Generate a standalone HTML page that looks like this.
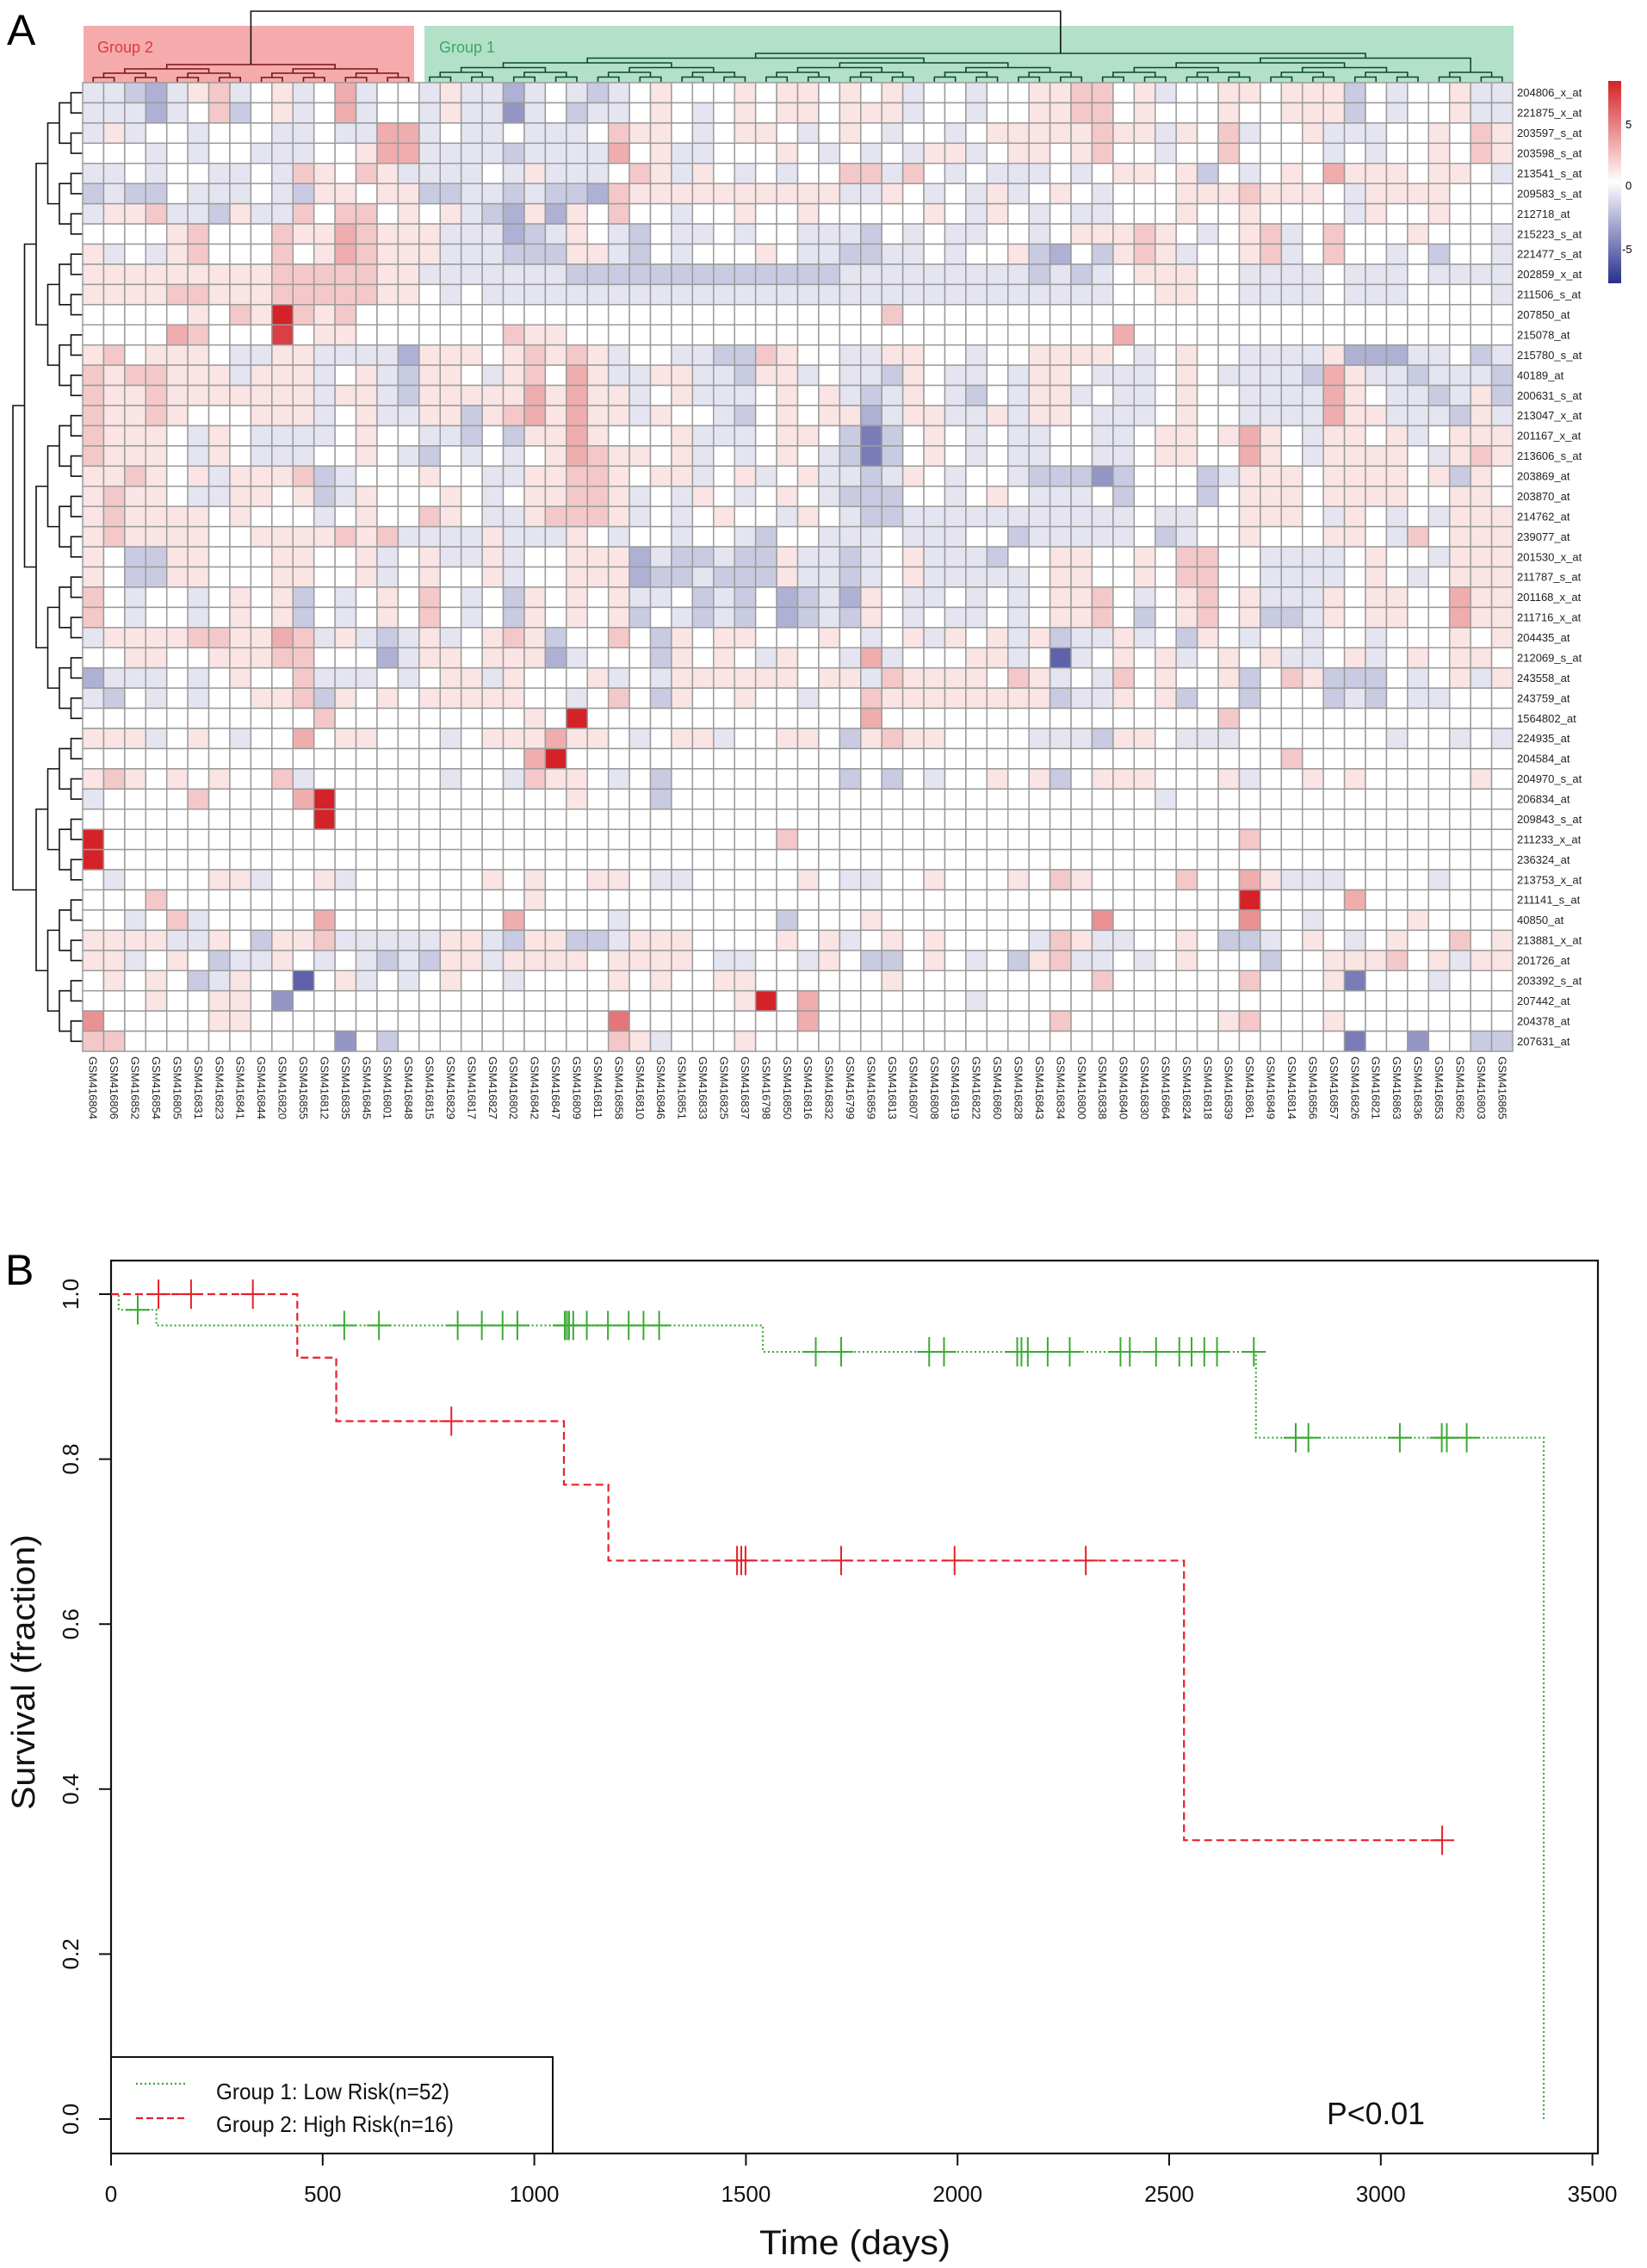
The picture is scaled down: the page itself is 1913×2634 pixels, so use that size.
<!DOCTYPE html>
<html><head><meta charset="utf-8"><title>Heatmap and survival</title>
<style>
html,body{margin:0;padding:0;background:#fff;}
svg{display:block;font-family:"Liberation Sans",Arial,sans-serif;}
</style></head>
<body>
<svg id="fig" width="1913" height="2634" viewBox="0 0 1913 2634" xmlns="http://www.w3.org/2000/svg">
<rect x="0" y="0" width="1913" height="2634" fill="#fff"/>
<text x="8" y="52" font-size="50">A</text>
<text x="6" y="1492" font-size="50">B</text>
<rect x="97" y="30" width="384" height="66" fill="#f5abab"/>
<rect x="493" y="30" width="1265" height="66" fill="#b3e0c8"/>
<text x="113" y="61" font-size="18" fill="#e0393b">Group 2</text>
<text x="510" y="61" font-size="18" fill="#3aa865">Group 1</text>
<g id="topDendro"></g>
<g id="leftDendro"></g>
<g id="heat"></g>
<g id="rowLabels"></g>
<g id="colLabels"></g>
<defs><linearGradient id="cbar" x1="0" y1="0" x2="0" y2="1">
<stop offset="0" stop-color="#d42328"/><stop offset="0.5" stop-color="#ffffff"/><stop offset="1" stop-color="#28308c"/></linearGradient></defs>
<rect x="1868" y="94" width="15" height="235" fill="url(#cbar)"/>
<text x="1888" y="149" font-size="13">5</text>
<text x="1888" y="220" font-size="13">0</text>
<text x="1884" y="294" font-size="13">-5</text>
<g id="km"></g>
</svg>
<script>
// ---------- Heatmap data ----------
const rowNames = ["204806_x_at","221875_x_at","203597_s_at","203598_s_at","213541_s_at","209583_s_at","212718_at","215223_s_at","221477_s_at","202859_x_at","211506_s_at","207850_at","215078_at","215780_s_at","40189_at","200631_s_at","213047_x_at","201167_x_at","213606_s_at","203869_at","203870_at","214762_at","239077_at","201530_x_at","211787_s_at","201168_x_at","211716_x_at","204435_at","212069_s_at","243558_at","243759_at","1564802_at","224935_at","204584_at","204970_s_at","206834_at","209843_s_at","211233_x_at","236324_at","213753_x_at","211141_s_at","40850_at","213881_x_at","201726_at","203392_s_at","207442_at","204378_at","207631_at"];
const colNames = ["GSM416804","GSM416806","GSM416852","GSM416854","GSM416805","GSM416831","GSM416823","GSM416841","GSM416844","GSM416820","GSM416855","GSM416812","GSM416835","GSM416845","GSM416801","GSM416848","GSM416815","GSM416829","GSM416817","GSM416827","GSM416802","GSM416842","GSM416847","GSM416809","GSM416811","GSM416858","GSM416810","GSM416846","GSM416851","GSM416833","GSM416825","GSM416837","GSM416798","GSM416850","GSM416816","GSM416832","GSM416799","GSM416859","GSM416813","GSM416807","GSM416808","GSM416819","GSM416822","GSM416860","GSM416828","GSM416843","GSM416834","GSM416800","GSM416838","GSM416840","GSM416830","GSM416864","GSM416824","GSM416818","GSM416839","GSM416861","GSM416849","GSM416814","GSM416856","GSM416857","GSM416826","GSM416821","GSM416863","GSM416836","GSM416853","GSM416862","GSM416803","GSM416865"];
const values = [
[-1,-1,-2,-3,-1,1,2,-1,0,1,-1,0,3,-1,0,0,-1,1,-1,-1,-3,-1, 0,-1,-2,-1,0,1,0,0,0,1,0,1,1,0,1,0,1,-1,0,0,-1,0,0, 1,1,2,2,0,1,-1,0,0,1,1,0,1,1,1,-2,0,-1,0,0,1,-1,-1],
[-1,-1,-1,-3,-1,0,2,-2,0,1,-1,0,3,-1,0,0,-1,1,-1,-1,-4,-1, 0,-2,-1,-1,0,1,0,-1,0,1,0,1,1,0,1,1,1,-1,0,0,-1,0,0, 1,1,2,2,0,1,0,0,0,1,0,0,1,1,1,-2,0,-1,0,0,1,-1,-1],
[-1,1,-1,0,0,-1,0,0,0,-1,-1,0,-1,-1,3,3,-1,0,-1,-1,0,-1, -1,-1,0,2,1,1,0,-1,0,1,1,0,-1,0,1,0,-1,0,0,-1,0,1,1, 1,1,1,2,1,1,-1,1,0,2,-1,0,0,1,-1,-1,-1,0,0,1,0,2,1],
[0,0,0,-1,0,-1,0,0,-1,-1,-1,0,0,1,3,3,-1,-1,-1,-1,-2,-1, -1,-1,-1,3,0,1,-1,-1,0,0,0,1,0,-1,0,-1,0,-1,1,1,-1,0,1, 1,0,1,2,0,0,-1,0,0,2,0,0,0,0,-1,0,-1,0,0,1,0,2,1],
[-1,-1,0,-1,0,0,-1,-1,0,-1,2,1,0,2,1,-1,-1,-1,-1,0,-1,1, -1,-1,-1,0,2,1,-1,1,0,-1,0,-1,0,0,2,2,-1,2,0,-1,0,-1,-1, -1,0,-1,0,1,1,0,1,-2,0,-1,0,1,0,3,1,1,1,0,1,1,0,-1],
[-2,-1,-2,-2,0,-1,-1,-1,0,-1,-2,1,1,0,1,1,-2,-2,-1,-1,-2,-1, -2,-2,-3,2,1,1,1,1,1,1,1,1,1,1,-1,-1,1,0,-1,0,-1,1,-1, 0,1,0,-1,0,0,0,1,1,1,2,1,1,1,0,-1,1,1,1,1,0,0,0],
[-1,1,1,2,-1,-1,-2,1,-1,-1,2,0,2,2,0,1,0,1,-1,-2,-3,1, -3,1,0,2,0,0,-1,0,0,1,0,0,1,0,0,0,0,0,1,0,-1,1,0, -1,0,-1,-1,0,0,0,1,0,0,1,0,0,0,0,-1,1,0,0,1,0,0,0],
[0,0,0,0,1,2,0,0,0,2,1,1,3,2,1,1,1,-1,-1,-1,-3,-2, -1,1,0,-1,-2,0,-1,-1,0,-1,0,0,-1,-1,-1,-2,0,-1,0,-1,-1,0,0, -1,0,1,1,1,2,1,0,-1,0,1,2,-1,0,2,0,0,0,1,0,0,0,-1],
[1,-1,0,-1,1,2,0,0,0,2,0,1,3,2,1,1,1,-1,-1,-1,-2,-2, -2,1,1,-1,-2,0,-1,0,0,0,1,0,-1,-1,-2,-2,-1,-1,0,-1,0,0,1, -2,-3,0,-2,1,2,1,-1,0,0,1,2,-1,0,2,0,0,-1,0,-2,0,0,-1],
[1,1,1,1,1,1,1,1,1,2,2,2,2,2,1,1,-1,-1,-1,-1,-1,-1, -1,-2,-2,-2,-2,-2,-2,-2,-2,-2,-2,-2,-2,-2,-1,-1,-1,-1,-1,-1,-1,-1,-1, -2,-1,-2,-1,0,1,1,1,0,0,-1,-1,-1,-1,0,-1,-1,-1,0,-1,-1,-1,-1],
[1,1,1,1,2,2,1,1,1,2,2,2,2,2,1,1,0,-1,0,-1,-1,-1, -1,-1,-1,-1,-1,-1,-1,-1,-1,-1,-1,-1,-1,-1,-1,-1,-1,-1,-1,-1,-1,-1,-1, -1,-1,-1,-1,0,0,1,1,0,0,-1,-1,-1,-1,0,-1,-1,-1,0,0,0,0,-1],
[0,0,0,0,0,1,0,2,1,8,2,1,2,0,0,0,0,0,0,0,0,0, 0,0,0,0,0,0,0,0,0,0,0,0,0,0,0,0,2,0,0,0,0,0,0, 0,0,0,0,0,0,0,0,0,0,0,0,0,0,0,0,0,0,0,0,0,0,0],
[0,0,0,0,3,2,0,0,0,7,0,1,1,0,0,0,0,0,0,0,2,1, 1,0,0,0,0,0,0,0,0,0,0,0,0,0,0,0,0,0,0,0,0,0,0, 0,0,0,0,3,0,0,0,0,0,0,0,0,0,0,0,0,0,0,0,0,0,0],
[1,2,0,1,1,1,0,-1,-1,1,1,-1,-1,-1,-1,-3,1,1,1,0,1,2, 1,2,1,-1,0,0,-1,-1,-2,-2,2,1,0,0,-1,-1,1,1,0,0,-1,0,0, 1,1,1,1,0,-1,0,1,0,0,-1,-1,-1,-1,1,-3,-3,-3,-1,-1,0,-2,-1],
[2,1,2,2,1,1,1,-1,1,1,1,-1,0,1,-1,-2,1,1,0,-1,1,2, 0,3,1,-1,-1,1,1,-1,-1,-2,1,1,-1,0,-1,-1,-2,1,0,-1,-1,0,-1, 1,1,0,-1,-1,-1,0,1,0,-1,-1,-1,-1,-2,3,1,-1,-1,-2,-1,-1,-1,-2],
[2,1,1,2,1,1,1,1,1,1,1,-1,1,1,-1,-2,1,1,1,1,1,3, 1,3,1,1,-1,0,1,-1,-1,-1,0,1,0,1,-1,-2,-1,1,0,-1,-2,0,-1, 1,1,-1,0,-1,-1,0,1,0,0,-1,-1,-1,-1,3,1,0,-1,-1,-2,-1,1,-2],
[2,1,1,2,1,0,0,0,1,1,1,-1,0,1,-1,-1,1,1,-2,1,2,3, 1,3,1,1,-1,1,0,0,-1,-2,0,1,0,1,1,-3,-1,1,1,-1,-1,1,-1, 1,1,0,-1,-1,-1,0,1,0,0,-1,-1,-1,-1,3,1,1,-1,-1,-1,-2,1,-1],
[2,1,1,1,0,-1,1,0,-1,-1,-1,-1,0,1,0,0,-1,-1,-2,0,-2,1, 1,3,1,0,0,0,1,-1,-1,-1,0,1,1,0,-2,-5,-2,0,1,0,-1,0,-1, -1,0,0,-1,-1,0,1,1,0,1,3,1,0,-1,1,1,0,1,-1,0,1,1,1],
[2,1,1,1,0,-1,1,0,-1,-1,-1,0,0,1,0,-1,-2,0,-1,0,-1,0, 1,3,2,1,1,0,1,-1,0,-1,0,1,0,-1,-2,-5,-2,0,1,0,-1,0,-1, -1,0,0,-1,-1,0,1,1,0,0,3,1,0,-1,1,1,1,1,0,-1,1,2,1],
[1,1,2,1,0,1,-1,1,1,1,2,-2,-1,0,0,0,1,0,0,-1,-1,1, 1,2,2,1,0,1,1,-1,0,1,-1,0,1,-1,-1,-2,-1,1,0,-1,0,0,-1, -2,-2,-2,-4,-2,0,0,0,-2,-1,1,1,1,0,1,1,1,1,0,1,-2,1,0],
[1,2,1,1,0,-1,-1,1,1,0,1,-2,-1,1,0,0,0,1,0,-1,0,1, 1,2,2,1,-1,0,-1,1,0,-1,0,1,0,-1,-2,-2,-2,0,0,-1,0,1,0, -1,-1,-1,0,-2,0,0,0,-2,0,1,1,1,0,1,1,1,1,0,0,1,1,0],
[1,2,1,1,1,1,0,1,0,0,0,-1,0,1,0,0,2,1,0,-1,-1,1, 2,2,2,1,-1,0,-1,0,1,0,0,-1,1,0,-1,-2,-2,-1,-1,-1,-1,-1,-1, -1,-1,-1,-1,-1,0,-1,-1,0,0,1,1,1,0,-1,1,0,-1,0,-1,1,1,1],
[1,2,1,1,1,1,0,0,1,1,1,1,2,1,2,-1,-1,-1,-1,1,-1,-1, -1,1,0,-1,0,0,-1,0,0,-1,-2,0,0,-1,-1,-1,0,-1,-1,-1,0,0,-2, -1,-1,-1,-1,-1,0,-2,-1,0,0,1,0,0,0,1,1,0,-1,2,0,1,1,1],
[1,0,-2,-2,1,1,0,0,0,1,1,0,0,1,-1,0,1,-1,-1,1,-1,0, 0,1,1,1,-3,-1,-2,-2,-1,-2,-2,1,-1,-1,-2,-1,0,1,-1,-1,-1,-2,0, 0,1,1,0,0,1,0,2,2,0,0,-1,-1,-1,-1,0,1,0,0,-1,1,1,1],
[1,0,-2,-2,1,1,0,0,0,1,1,0,0,1,-1,0,1,0,0,1,-1,0, 0,1,1,1,-3,-2,-2,-1,-2,-2,-2,1,-1,-1,-2,-1,0,1,-1,-1,-1,-1,-1, 0,1,1,0,0,1,0,2,2,0,0,-1,-1,-1,-1,0,1,0,-1,0,1,1,1],
[2,0,-1,0,0,-1,0,1,0,1,-2,0,-1,0,1,0,2,0,-1,0,-2,1, 0,1,0,1,-1,-1,0,-2,-1,-2,0,-3,-2,-1,-3,1,0,-1,-1,0,-1,0,-1, 0,1,1,2,0,-1,0,1,2,0,1,-1,-1,-1,1,0,1,1,0,0,3,1,1],
[2,0,-1,0,0,-1,0,1,0,1,-2,0,-1,0,1,0,2,0,-1,0,-2,1, 0,1,0,1,-2,0,-1,-2,-1,-2,0,-3,-2,-1,-2,1,0,-1,0,-1,-1,0,-1, 0,1,1,2,0,-2,0,1,2,0,1,-2,-2,-1,1,0,1,1,0,0,3,1,1],
[-1,1,1,1,1,2,2,1,1,3,2,-1,1,-1,-2,-1,1,-1,0,1,2,1, -2,0,0,2,0,-2,1,0,1,1,0,0,0,1,0,-1,0,1,-1,1,0,1,-1, 1,-2,-1,-1,1,-1,0,-2,1,0,-1,0,0,-1,0,0,-1,0,0,0,1,0,1],
[0,0,1,1,0,0,1,1,1,2,2,0,0,0,-3,-1,1,1,0,1,1,1, -3,-1,0,0,0,-2,1,0,1,0,-1,1,0,0,-1,3,-1,0,0,0,1,1,-1, 0,-6,-1,0,1,0,1,-1,0,1,0,1,-1,-1,0,1,-1,0,1,0,1,1,0],
[-3,-1,-1,-1,0,-1,0,1,0,0,2,-1,-1,-1,0,-1,0,1,1,-1,1,0, 0,0,1,-1,0,-1,1,1,1,1,1,1,0,1,1,-1,2,1,1,1,1,0,2, 1,-1,0,-1,2,0,1,0,0,1,-2,0,2,1,-2,-2,-2,0,-1,0,1,-1,1],
[-1,-2,0,-1,0,-1,0,0,1,1,2,-2,1,0,1,0,1,1,1,1,1,0, 0,-1,0,2,0,-2,1,0,0,1,0,0,-1,0,0,2,1,1,1,1,1,1,1, 1,-2,-1,-1,1,0,1,-2,0,0,-2,0,0,0,-2,-1,-2,0,-1,-1,0,0,0],
[0,0,0,0,0,0,0,0,0,0,0,2,0,0,0,0,0,0,0,0,0,1, 0,8,0,0,0,0,0,0,0,0,0,0,0,0,0,3,0,0,0,0,0,0,0, 0,0,0,0,0,0,0,0,0,2,0,0,0,0,0,0,0,0,0,0,0,0,0],
[1,1,1,-1,0,1,0,-1,0,0,3,0,1,1,0,0,0,-1,0,1,1,1, 3,1,1,0,-1,0,1,1,-1,0,0,1,1,0,-2,1,2,1,1,0,0,0,0, -1,-1,-1,-2,1,1,0,-1,-1,-1,0,0,0,0,0,0,0,-1,0,0,-1,0,-1],
[0,0,0,0,0,0,0,0,0,0,0,0,0,0,0,0,0,0,0,0,0,3, 8,0,0,0,0,0,0,0,0,0,0,0,0,0,0,0,0,0,0,0,0,0,0, 0,0,0,0,0,0,0,0,0,0,0,0,2,0,0,0,0,0,0,0,0,0,0],
[1,2,1,0,1,0,1,0,0,2,-1,0,0,0,0,0,0,-1,0,0,-1,2, 1,1,0,-1,0,-2,0,0,0,0,0,0,0,0,-2,0,-2,0,-1,0,0,1,0, 1,-2,0,1,1,1,0,0,0,1,-1,0,0,1,0,1,0,0,0,0,0,1,0],
[-1,0,0,0,0,2,0,0,0,0,3,8,0,0,0,0,0,0,0,0,0,0, 0,1,0,0,0,-2,0,0,0,0,0,0,0,0,0,0,0,0,0,0,0,0,0, 0,0,0,0,0,0,-1,0,0,0,0,0,0,0,0,0,0,0,0,0,0,0,0],
[0,0,0,0,0,0,0,0,0,0,0,8,0,0,0,0,0,0,0,0,0,0, 0,0,0,0,0,0,0,0,0,0,0,0,0,0,0,0,0,0,0,0,0,0,0, 0,0,0,0,0,0,0,0,0,0,0,0,0,0,0,0,0,0,0,0,0,0,0],
[8,0,0,0,0,0,0,0,0,0,0,0,0,0,0,0,0,0,0,0,0,0, 0,0,0,0,0,0,0,0,0,0,0,2,0,0,0,0,0,0,0,0,0,0,0, 0,0,0,0,0,0,0,0,0,0,2,0,0,0,0,0,0,0,0,0,0,0,0],
[8,0,0,0,0,0,0,0,0,0,0,0,0,0,0,0,0,0,0,0,0,0, 0,0,0,0,0,0,0,0,0,0,0,0,0,0,0,0,0,0,0,0,0,0,0, 0,0,0,0,0,0,0,0,0,0,0,0,0,0,0,0,0,0,0,0,0,0,0],
[0,-1,0,0,0,0,1,1,-1,0,0,1,-1,0,0,0,0,0,0,1,0,1, 0,0,1,1,0,-1,-1,0,0,0,0,0,1,0,-1,-1,0,0,1,0,0,0,1, 0,2,1,0,0,0,0,2,0,0,3,1,-1,-1,-1,0,0,0,0,-1,0,0,0],
[0,0,0,2,0,0,0,0,0,0,0,0,0,0,0,0,0,0,0,0,0,1, 0,0,0,0,0,0,0,0,0,0,0,0,0,0,0,0,0,0,0,0,0,0,0, 0,0,0,0,0,0,0,0,0,0,8,0,0,0,0,3,0,0,0,0,0,0,0],
[0,0,-1,0,2,-1,0,0,0,0,0,3,0,0,0,0,0,0,0,0,3,0, 0,0,0,-1,0,0,0,0,0,0,0,-2,0,0,0,1,0,0,0,0,0,0,0, 0,0,0,4,0,0,0,0,0,0,4,0,0,-1,0,0,0,0,1,0,0,0,0],
[1,1,1,1,-1,-1,1,0,-2,1,1,2,-1,-1,-1,-1,-1,1,1,-1,-2,1, 1,-2,-2,-1,1,1,1,0,0,0,0,1,0,1,-1,0,1,0,1,0,0,0,0, -1,2,1,-1,-1,0,0,1,0,-2,-2,-1,0,1,0,-1,0,1,0,0,2,0,1],
[1,1,-1,0,1,0,-2,-1,-1,1,0,-1,0,-1,-2,-1,-2,1,1,-1,1,1, 1,1,0,1,1,1,1,0,-1,-1,0,0,-1,1,0,-2,-2,0,1,0,-1,0,-2, 1,2,-1,-1,0,-1,0,1,0,0,0,-2,0,0,1,1,1,2,0,1,-1,1,1],
[0,1,0,1,0,-2,-1,1,0,0,-6,0,1,-1,0,-1,0,1,0,0,-1,0, 0,0,0,1,0,1,0,0,1,1,0,0,0,0,0,0,1,0,0,0,0,0,0, 0,0,0,2,0,0,0,0,0,0,2,0,0,0,1,-5,0,0,0,-1,0,0,0],
[0,0,0,1,0,0,1,1,0,-4,0,0,0,0,0,0,0,0,0,0,0,0, 0,0,0,0,0,0,0,0,0,1,8,0,3,0,0,0,0,0,0,0,-1,0,0, 0,0,0,0,0,0,0,0,0,0,0,0,0,0,0,0,0,0,0,0,0,0,0],
[4,0,0,0,0,0,1,1,0,0,0,0,0,0,0,0,0,0,0,0,0,0, 0,0,0,5,0,0,0,0,0,0,0,0,3,0,0,0,0,0,0,0,0,0,0, 0,2,0,0,0,0,0,0,0,1,2,0,0,0,1,0,0,0,0,0,0,0,0],
[2,2,0,0,0,0,0,0,0,0,0,0,-4,0,-2,0,0,0,0,0,0,0, 0,0,0,2,1,-1,0,0,0,1,0,0,0,0,0,0,0,0,0,0,0,0,0, 0,0,0,0,0,0,0,0,0,0,0,0,0,0,0,-5,0,0,-4,0,0,-2,-2]
];

// ---------- Survival data ----------
const greenTimes = [0, 18, 107, 1540, 2705, 3385];
const greenSurv  = [1, 0.981, 0.962, 0.93, 0.826, 0];
const greenEnd   = [3385];
const redTimes   = [0, 440, 532, 1070, 1175, 2535];
const redSurv    = [1, 0.923, 0.846, 0.769, 0.677, 0.338];
const redEnd     = [3145];
const greenCensor = [63,551,633,819,876,925,960,1072,1077,1082,1092,1124,1174,1223,1258,1295,1665,1725,1933,1968,2141,2151,2166,2213,2265,2385,2407,2469,2524,2553,2583,2613,2700,2799,2829,3045,3144,3156,3203];
const redCensor   = [112,189,335,804,1479,1489,1499,1725,1993,2303,3145];
const xTicks = [0,500,1000,1500,2000,2500,3000,3500];
const yTicks = [0,0.2,0.4,0.6,0.8,1.0];
const yTickLabels = ["0.0","0.2","0.4","0.6","0.8","1.0"];

const NS = "http://www.w3.org/2000/svg";
function mk(tag, attrs, parent){
  const e = document.createElementNS(NS, tag);
  for (const k in attrs) e.setAttribute(k, attrs[k]);
  parent.appendChild(e); return e;
}

// ---------- Heatmap ----------
const HX0 = 96, HY0 = 96, HX1 = 1757, HY1 = 1221;
const nR = rowNames.length, nC = colNames.length;
const cw = (HX1 - HX0) / nC, rh = (HY1 - HY0) / nR;
function colX(c){ return HX0 + c * cw; }
function rowY(r){ return HY0 + r * rh; }
function cellColor(v){
  const t = Math.min(Math.abs(v) / 8, 1);
  let e = v >= 0 ? [212,35,40] : [40,45,140];
  const r = Math.round(255 + (e[0]-255)*t), g = Math.round(255 + (e[1]-255)*t), b = Math.round(255 + (e[2]-255)*t);
  return "rgb(" + r + "," + g + "," + b + ")";
}
const heat = document.getElementById("heat");
for (let r = 0; r < nR; r++){
  for (let c = 0; c < nC; c++){
    const v = (values[r] && values[r][c] !== undefined) ? values[r][c] : 0;
    const el = mk("rect", {x: colX(c).toFixed(2), y: rowY(r).toFixed(2), width: cw.toFixed(2), height: rh.toFixed(2), fill: cellColor(v), stroke: "#9b9b9b", "stroke-width": "1.5"}, heat);
    
    
  }
}
const rl = document.getElementById("rowLabels");
rowNames.forEach((n, r) => {
  const t = mk("text", {x: HX1 + 5, y: (rowY(r) + rh/2 + 4.5).toFixed(1), "font-size": "13", fill: "#222"}, rl);
  t.textContent = n;
  
  
});
const cl = document.getElementById("colLabels");
colNames.forEach((n, c) => {
  const cx = colX(c) + cw/2 - 4.5;
  const t = mk("text", {x: 0, y: 0, "font-size": "13", fill: "#222", transform: "translate(" + cx.toFixed(1) + "," + (HY1 + 6) + ") rotate(90)"}, cl);
  t.textContent = n;
  
  
});

// ---------- Dendrograms (decorative) ----------
function buildTree(positions, levelCoord, g, color, horizontal){
  let nodes = positions.map(p => ({p: p, h: levelCoord(0)}));
  let lvl = 1;
  while (nodes.length > 1){
    const next = [];
    for (let i = 0; i < nodes.length; i += 2){
      if (i + 1 >= nodes.length){ next.push(nodes[i]); continue; }
      const a = nodes[i], b = nodes[i+1], h = levelCoord(lvl);
      let d;
      if (horizontal) d = "M" + a.h + "," + a.p + "H" + h + "V" + b.p + "H" + b.h;
      else d = "M" + a.p + "," + a.h + "V" + h + "H" + b.p + "V" + b.h;
      mk("path", {d: d, fill: "none", stroke: color, "stroke-width": "1.6"}, g);
      next.push({p: (a.p + b.p)/2, h: h});
    }
    nodes = next; lvl++;
  }
  return nodes[0];
}
const ld = document.getElementById("leftDendro");
const rowPos = rowNames.map((n, r) => rowY(r) + rh/2);
const lroot = buildTree(rowPos, k => 96 - k*13.5, ld, "#111", true);
const td = document.getElementById("topDendro");
const g2pos = colNames.slice(0,16).map((n,i) => colX(i) + cw/2);
const g1pos = colNames.slice(16).map((n,i) => colX(i+16) + cw/2);
const r2 = buildTree(g2pos, k => 95 - k*5, td, "#7a1414", false);
const r1 = buildTree(g1pos, k => 95 - k*5.5, td, "#0b4a2a", false);
mk("path", {d: "M" + r2.p + "," + r2.h + "V13H" + r1.p + "V" + r1.h, fill: "none", stroke: "#111", "stroke-width": "1.6"}, td);

// ---------- Kaplan-Meier ----------
const km = document.getElementById("km");
const PX0 = 129, PX1 = 1856, PY0 = 1464, PY1 = 2501;
function xs(d){ return 129 + d * 0.4916; }
function ys(s){ return 2461 - s * 958; }
mk("rect", {x: PX0, y: PY0, width: PX1-PX0, height: PY1-PY0, fill: "none", stroke: "#111", "stroke-width": "2.2"}, km);

xTicks.forEach(t => {
  const l = mk("line", {x1: xs(t), x2: xs(t), y1: PY1, y2: PY1 + 14, stroke: "#111", "stroke-width": "2"}, km);
  
  
  const tx = mk("text", {x: xs(t), y: 2557, "font-size": "26", "text-anchor": "middle", fill: "#111"}, km);
  tx.textContent = t;
  
  
});
yTicks.forEach((t, i) => {
  const l = mk("line", {x1: PX0 - 14, x2: PX0, y1: ys(t), y2: ys(t), stroke: "#111", "stroke-width": "2"}, km);
  
  
  const tx = mk("text", {x: 0, y: 0, "font-size": "26", "text-anchor": "middle", fill: "#111", transform: "translate(91," + ys(t) + ") rotate(-90)"}, km);
  tx.textContent = yTickLabels[i];
  
  
});

function stepPath(times, surv, end){
  let d = "M" + xs(times[0]) + "," + ys(surv[0]);
  for (let i = 1; i < times.length; i++){
    d += "H" + xs(times[i]) + "V" + ys(surv[i]);
  }
  if (end > times[times.length-1]) d += "H" + xs(end);
  return d;
}
function survAt(times, surv, t){
  let s = surv[0];
  for (let i = 0; i < times.length; i++) if (times[i] <= t) s = surv[i];
  return s;
}
const gl = mk("path", {d: stepPath(greenTimes, greenSurv, greenEnd[0]), fill: "none", stroke: "#3aaa35", "stroke-width": "2.2", "stroke-dasharray": "2,3"}, km);


const rline = mk("path", {d: stepPath(redTimes, redSurv, redEnd[0]), fill: "none", stroke: "#e8202a", "stroke-width": "2.2", "stroke-dasharray": "9,5"}, km);


function censor(t, s, col){
  const x = xs(t), y = ys(s);
  const p = mk("path", {d: "M" + (x-14) + "," + y + "H" + (x+14) + "M" + x + "," + (y-17) + "V" + (y+17), stroke: col, "stroke-width": "2", fill: "none"}, km);
  
  
}
greenCensor.forEach(t => censor(t, survAt(greenTimes, greenSurv, t), "#3aaa35"));
redCensor.forEach(t => censor(t, survAt(redTimes, redSurv, t), "#e8202a"));
</script>
<g></g>
<svg width="0" height="0"></svg>
<script>
(function(){
  const NS = "http://www.w3.org/2000/svg";
  const km = document.getElementById("km");
  function add(tag, a, txt, name, inter){
    const e = document.createElementNS(NS, tag);
    for (const k in a) e.setAttribute(k, a[k]);
    if (txt) e.textContent = txt;
    
    
    km.appendChild(e); return e;
  }
  add("rect", {x:129, y:2389, width:513, height:112, fill:"#fff", stroke:"#111", "stroke-width":"2"}, "", "legend-box", "false");
  add("line", {x1:158, x2:218, y1:2420, y2:2420, stroke:"#3aaa35", "stroke-width":"2.2", "stroke-dasharray":"2,3"}, "", "legend-swatch-low-risk", "false");
  add("line", {x1:158, x2:218, y1:2460, y2:2460, stroke:"#e8202a", "stroke-width":"2.2", "stroke-dasharray":"8,4"}, "", "legend-swatch-high-risk", "false");
  add("text", {x:251, y:2438, "font-size":"26", textLength:"271", lengthAdjust:"spacingAndGlyphs", fill:"#111"}, "Group 1: Low Risk(n=52)", "legend-entry-low-risk", "false");
  add("text", {x:251, y:2476, "font-size":"26", textLength:"276", lengthAdjust:"spacingAndGlyphs", fill:"#111"}, "Group 2: High Risk(n=16)", "legend-entry-high-risk", "false");
  add("text", {x:1541, y:2467, "font-size":"36", textLength:"114", lengthAdjust:"spacingAndGlyphs", fill:"#111"}, "P<0.01", "p-value-label", "false");
  add("text", {x:882, y:2618, "font-size":"40", textLength:"222", lengthAdjust:"spacingAndGlyphs", fill:"#111"}, "Time (days)", "x-axis-title", "false");
  add("text", {x:0, y:0, "font-size":"38", "text-anchor":"middle", textLength:"320", lengthAdjust:"spacingAndGlyphs", fill:"#111", transform:"translate(40,1942) rotate(-90)"}, "Survival (fraction)", "y-axis-title", "false");
})();
</script>
</body></html>
